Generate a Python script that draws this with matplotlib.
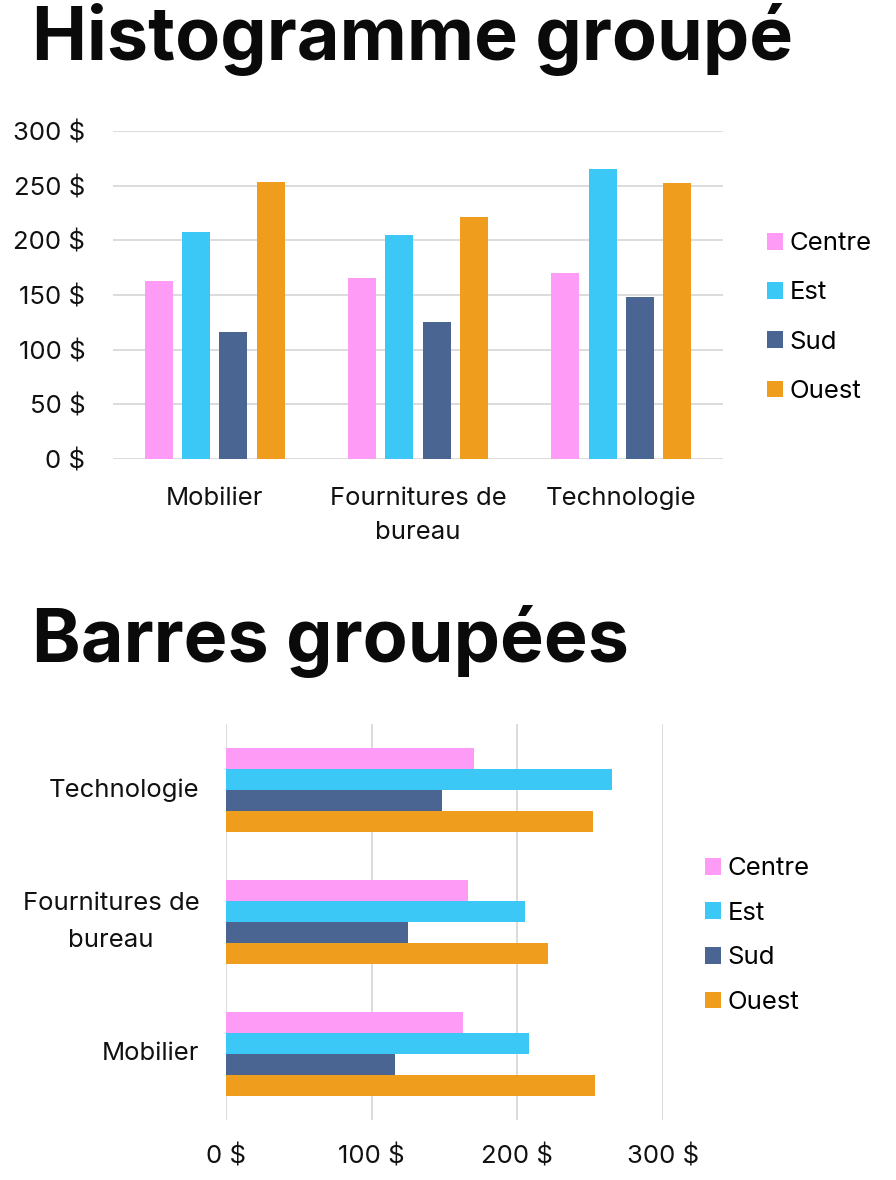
import numpy as np
import matplotlib
matplotlib.use("Agg")
import matplotlib.pyplot as plt
from matplotlib.patches import Patch

plt.rcParams['font.family'] = ['Inter', 'DejaVu Sans']

# data
categories = ["Mobilier", "Fournitures de\nbureau", "Technologie"]
regions = ["Centre", "Est", "Sud", "Ouest"]
centre = [163, 166, 170]
est = [208, 205, 265]
sud = [116, 125, 148]
ouest = [253, 221, 252]
y_ticks = [0, 50, 100, 150, 200, 250, 300]
x_ticks = [0, 100, 200, 300]

colors = ["#FD9BF6", "#3CC8F7", "#4A6592", "#EE9D1C"]
series = [centre, est, sud, ouest]

W, H = 896, 1180
fig = plt.figure(figsize=(W / 100, H / 100), dpi=100)

def fx(px):
    return px / W

def fy(py):
    return 1 - py / H

grid_col = "#D9D9D9"
tick_size = 18.5
leg_size = 18.5

# titles
fig.text(fx(32), fy(60), "Histogramme groupé", fontsize=53, fontweight="bold",
         va="baseline", ha="left", color="#0A0A0A")
fig.text(fx(32), fy(662), "Barres groupées", fontsize=53, fontweight="bold",
         va="baseline", ha="left", color="#0A0A0A")

# --- top: vertical grouped bars
ax1 = fig.add_axes([fx(113), fy(459), fx(723) - fx(113), fy(131) - fy(459)])
x = np.arange(len(categories))
step = 0.184
bw = 0.138
for i, (vals, col) in enumerate(zip(series, colors)):
    ax1.bar(x + (i - 1.5) * step, vals, width=bw, color=col, zorder=3)
ax1.set_xlim(-0.5, 2.5)
ax1.set_ylim(0, 300)
ax1.set_yticks(y_ticks)
ax1.set_yticklabels([f"{v} $" for v in y_ticks], fontsize=tick_size)
ax1.set_xticks(x)
ax1.set_xticklabels(categories, fontsize=tick_size, linespacing=1.62)
ax1.tick_params(axis="both", length=0, colors="#111111")
ax1.tick_params(axis="y", pad=20)
ax1.tick_params(axis="x", pad=20)
ax1.grid(axis="y", color=grid_col, linewidth=1.3, zorder=0)
for s in ax1.spines.values():
    s.set_visible(False)

handles = [Patch(facecolor=c, label=r) for c, r in zip(colors, regions)]
fig.legend(handles=handles, loc="upper left", bbox_to_anchor=(fx(757), fy(222)),
           frameon=False, fontsize=leg_size, handlelength=0.62, handleheight=0.62,
           handletextpad=0.25, labelspacing=1.02, borderaxespad=0)

# --- bottom: horizontal grouped bars
ax2 = fig.add_axes([fx(226), fy(1120), fx(663) - fx(226), fy(724) - fy(1120)])
y = np.arange(len(categories))
bh = 0.16
for i, (vals, col) in enumerate(zip(series, colors)):
    ax2.barh(y + (1.5 - i) * bh, vals, height=bh, color=col, zorder=3)
ax2.set_ylim(-0.5, 2.5)
ax2.set_xlim(0, 300)
ax2.set_xticks(x_ticks)
ax2.set_xticklabels([f"{v} $" for v in x_ticks], fontsize=tick_size)
ax2.set_yticks(y)
ax2.set_yticklabels(categories, fontsize=tick_size, linespacing=1.8, va="center")
for lab in ax2.get_yticklabels():
    lab.set_multialignment("center")
ax2.tick_params(axis="both", length=0, colors="#111111")
ax2.tick_params(axis="y", pad=19)
ax2.tick_params(axis="x", pad=18)
ax2.grid(axis="x", color=grid_col, linewidth=1.3, zorder=0)
for s in ax2.spines.values():
    s.set_visible(False)

fig.legend(handles=handles, loc="upper left", bbox_to_anchor=(fx(695), fy(847)),
           frameon=False, fontsize=leg_size, handlelength=0.62, handleheight=0.62,
           handletextpad=0.25, labelspacing=0.84, borderaxespad=0)

fig.savefig("out.png", dpi=100)
